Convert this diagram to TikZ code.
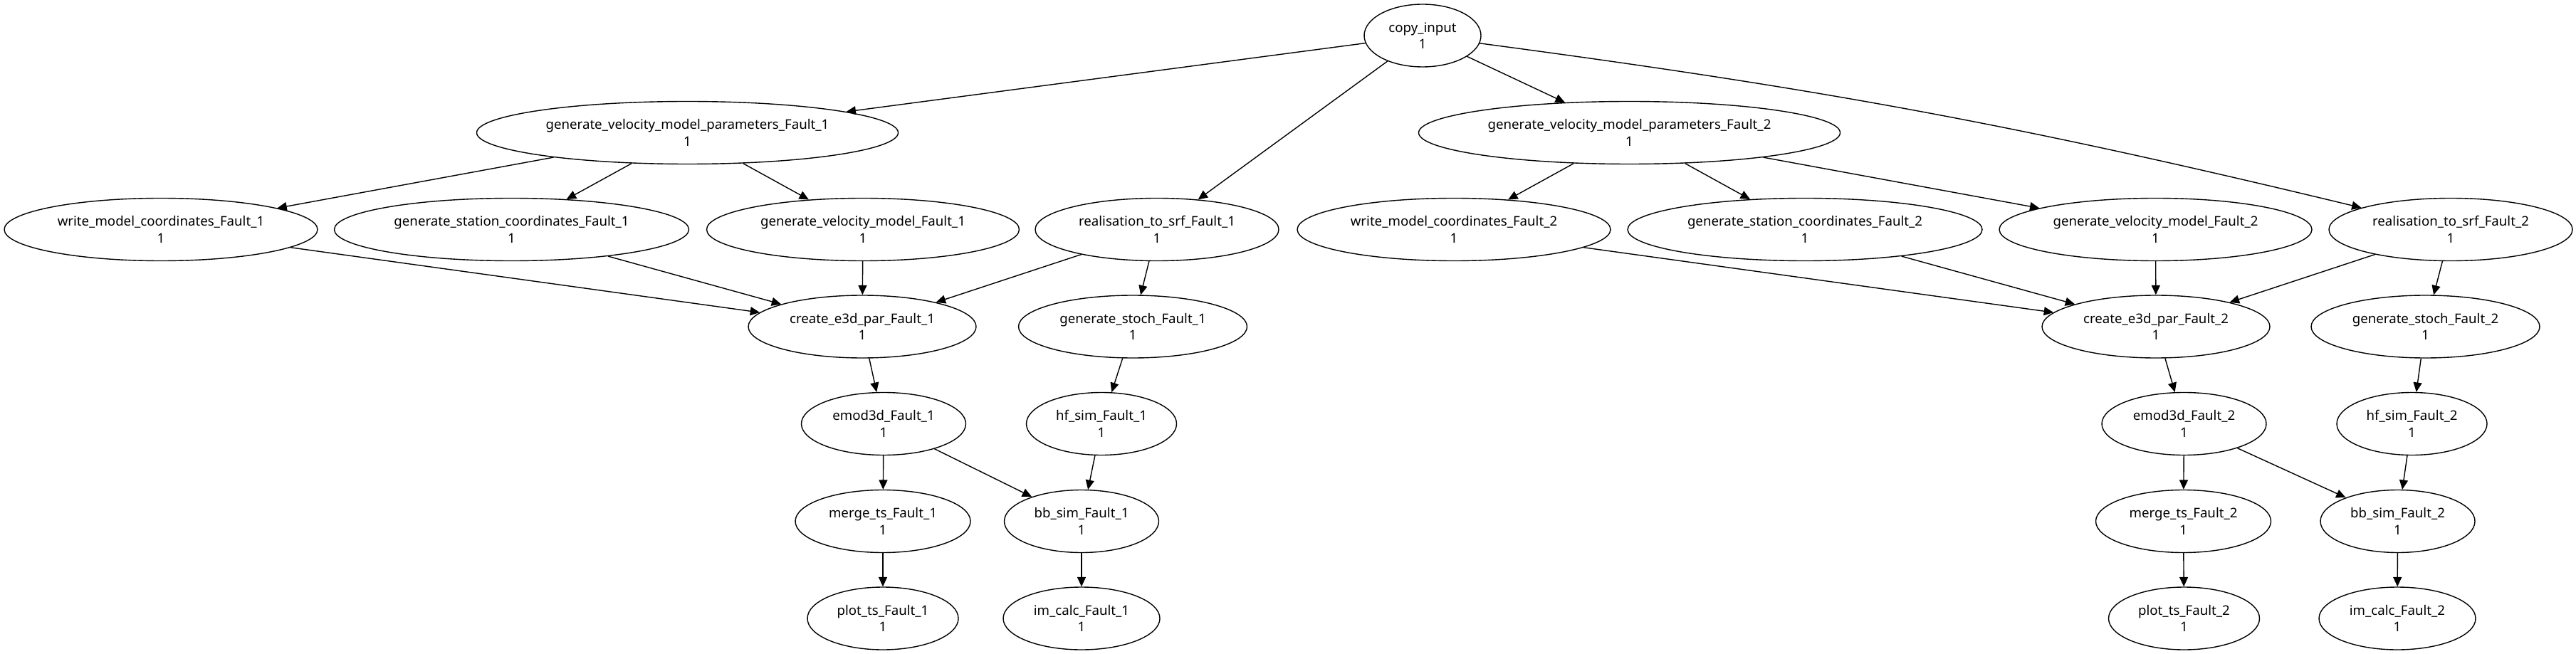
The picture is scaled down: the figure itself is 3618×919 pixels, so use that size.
\documentclass[tikz,border=0pt]{standalone}
\usepackage{fontspec}
\setmainfont{Noto Sans}
\usetikzlibrary{shapes.geometric,arrows.meta}
\begin{document}
\begin{tikzpicture}[x=0.5pt,y=-0.5pt,line width=0.7pt,>={Triangle[length=6.7pt,width=6pt]},
  task/.style={ellipse,draw,minimum width=#1,minimum height=44pt,inner sep=0pt,align=center,
    font=\fontsize{9.33}{11.85}\selectfont}]
  \useasboundingbox (0,0) rectangle (3618,919);
  \node[task=82pt] (cin) at (1998,50) {copy\_input\\1};
  \node[task=296pt] (gvmp1) at (965.5,186.5) {generate\_velocity\_model\_parameters\_Fault\_1\\1};
  \node[task=296pt] (gvmp2) at (2288.5,186.5) {generate\_velocity\_model\_parameters\_Fault\_2\\1};
  \node[task=220pt] (wmc1) at (226,322.5) {write\_model\_coordinates\_Fault\_1\\1};
  \node[task=249pt] (gsc1) at (718.5,322.5) {generate\_station\_coordinates\_Fault\_1\\1};
  \node[task=219.5pt] (gvm1) at (1212,322.5) {generate\_velocity\_model\_Fault\_1\\1};
  \node[task=171pt] (rts1) at (1625,322.5) {realisation\_to\_srf\_Fault\_1\\1};
  \node[task=220pt] (wmc2) at (2042,322.5) {write\_model\_coordinates\_Fault\_2\\1};
  \node[task=249pt] (gsc2) at (2535,322.5) {generate\_station\_coordinates\_Fault\_2\\1};
  \node[task=219.5pt] (gvm2) at (3027.5,322.5) {generate\_velocity\_model\_Fault\_2\\1};
  \node[task=171pt] (rts2) at (3442,322.5) {realisation\_to\_srf\_Fault\_2\\1};
  \node[task=160pt] (ce3d1) at (1211,459) {create\_e3d\_par\_Fault\_1\\1};
  \node[task=160.5pt] (gst1) at (1591,459) {generate\_stoch\_Fault\_1\\1};
  \node[task=160pt] (ce3d2) at (3028,459) {create\_e3d\_par\_Fault\_2\\1};
  \node[task=160.5pt] (gst2) at (3406.5,459) {generate\_stoch\_Fault\_2\\1};
  \node[task=115.5pt] (emod1) at (1241,595.5) {emod3d\_Fault\_1\\1};
  \node[task=105.5pt] (hf1) at (1547,595.5) {hf\_sim\_Fault\_1\\1};
  \node[task=115.5pt] (emod2) at (3067.5,595.5) {emod3d\_Fault\_2\\1};
  \node[task=105.5pt] (hf2) at (3387.5,595.5) {hf\_sim\_Fault\_2\\1};
  \node[task=123pt] (mts1) at (1240,732.5) {merge\_ts\_Fault\_1\\1};
  \node[task=108.5pt] (bb1) at (1519,732.5) {bb\_sim\_Fault\_1\\1};
  \node[task=123pt] (mts2) at (3066.5,732.5) {merge\_ts\_Fault\_2\\1};
  \node[task=108.5pt] (bb2) at (3367.5,732.5) {bb\_sim\_Fault\_2\\1};
  \node[task=106pt] (pts1) at (1240,869) {plot\_ts\_Fault\_1\\1};
  \node[task=110pt] (imc1) at (1519,869) {im\_calc\_Fault\_1\\1};
  \node[task=106pt] (pts2) at (3067.5,869) {plot\_ts\_Fault\_2\\1};
  \node[task=110pt] (imc2) at (3367,869) {im\_calc\_Fault\_2\\1};
  \draw[->] (cin) -- (gvmp1);
  \draw[->] (cin) -- (rts1);
  \draw[->] (cin) -- (gvmp2);
  \draw[->] (cin) to[bend left=3] (rts2);
  \draw[->] (gvmp1) -- (wmc1);
  \draw[->] (gvmp1) -- (gsc1);
  \draw[->] (gvmp1) -- (gvm1);
  \draw[->] (gvmp2) -- (wmc2);
  \draw[->] (gvmp2) -- (gsc2);
  \draw[->] (gvmp2) -- (gvm2);
  \draw[->] (wmc1) -- (ce3d1);
  \draw[->] (gsc1) -- (ce3d1);
  \draw[->] (gvm1) -- (ce3d1);
  \draw[->] (rts1) -- (ce3d1);
  \draw[->] (rts1) -- (gst1);
  \draw[->] (wmc2) -- (ce3d2);
  \draw[->] (gsc2) -- (ce3d2);
  \draw[->] (gvm2) -- (ce3d2);
  \draw[->] (rts2) -- (ce3d2);
  \draw[->] (rts2) -- (gst2);
  \draw[->] (ce3d1) -- (emod1);
  \draw[->] (gst1) -- (hf1);
  \draw[->] (emod1) -- (mts1);
  \draw[->] (emod1) -- (bb1);
  \draw[->] (hf1) -- (bb1);
  \draw[->] (mts1) -- (pts1);
  \draw[->] (bb1) -- (imc1);
  \draw[->] (ce3d2) -- (emod2);
  \draw[->] (gst2) -- (hf2);
  \draw[->] (emod2) -- (mts2);
  \draw[->] (emod2) -- (bb2);
  \draw[->] (hf2) -- (bb2);
  \draw[->] (mts2) -- (pts2);
  \draw[->] (bb2) -- (imc2);
\end{tikzpicture}
\end{document}
